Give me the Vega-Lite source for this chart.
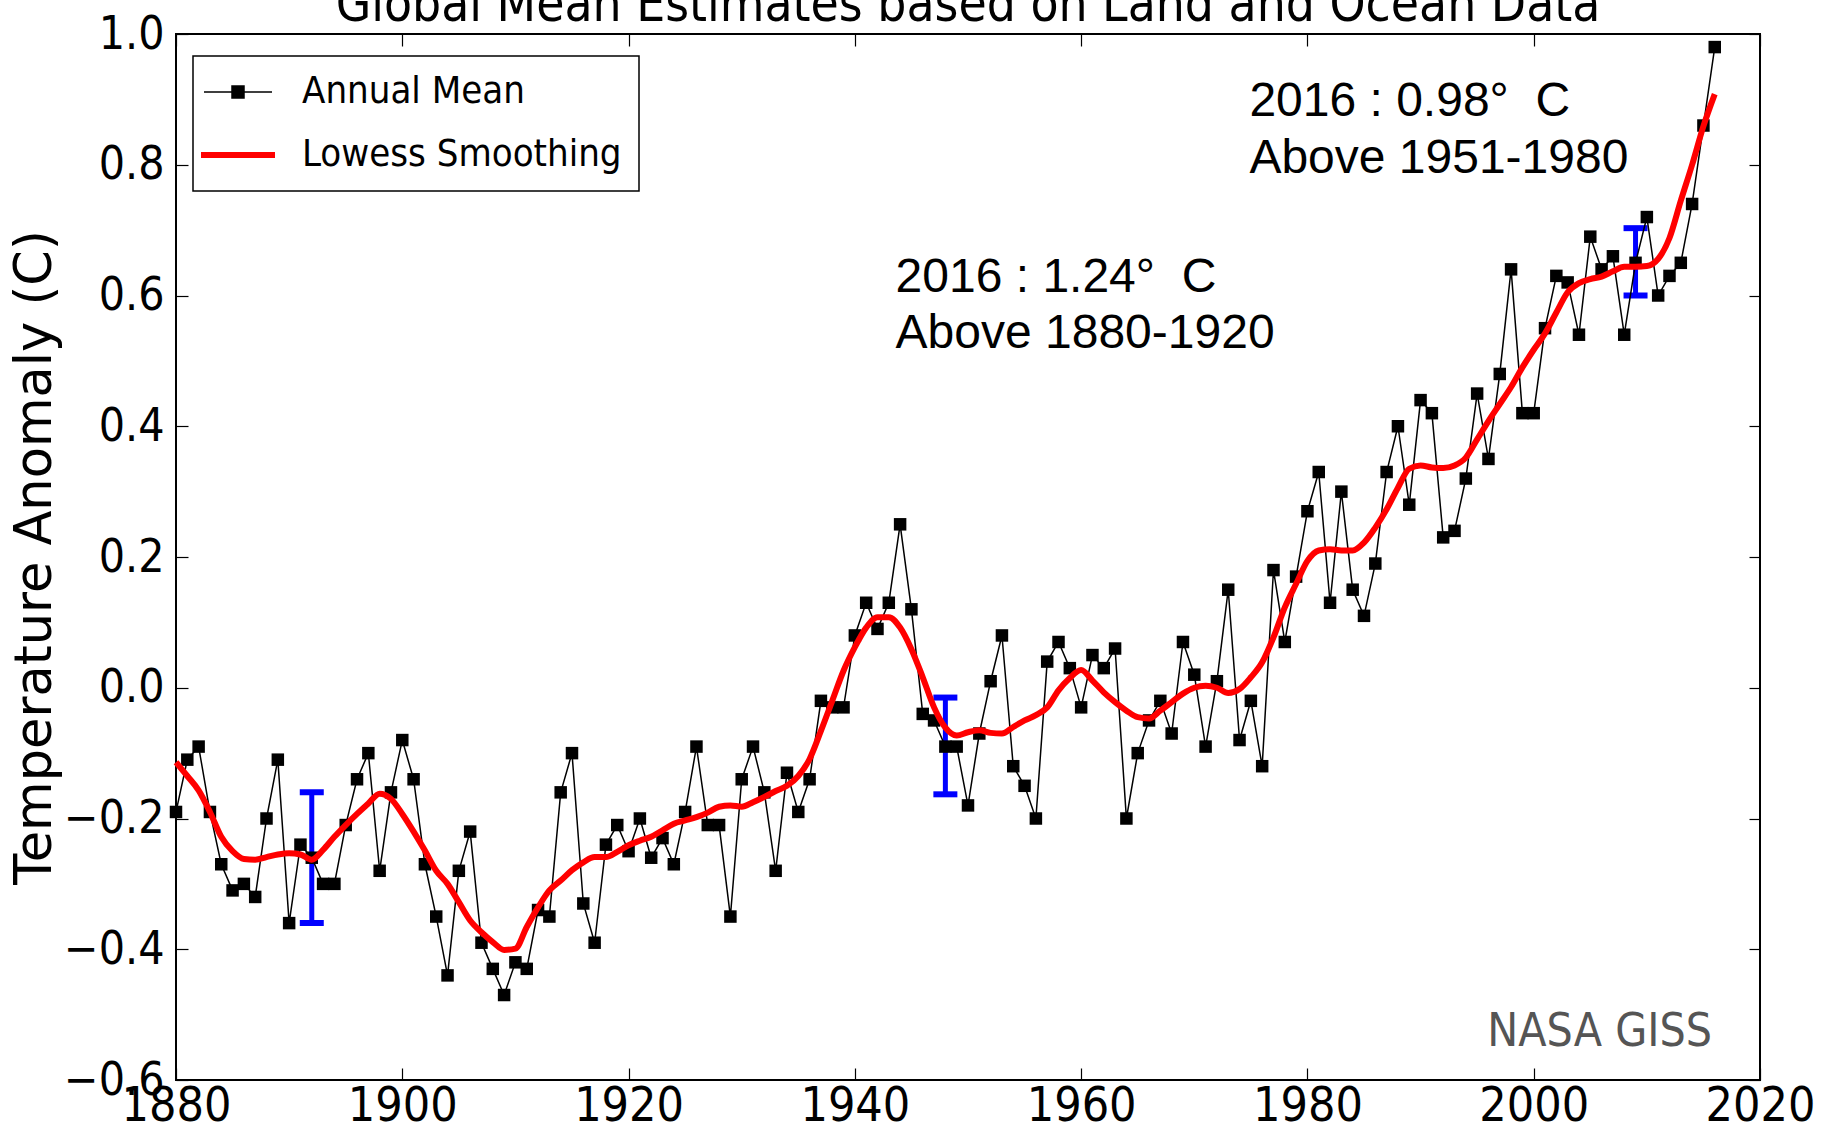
{
  "$schema": "https://vega.github.io/schema/vega-lite/v6.json",
  "width": 1584,
  "height": 1046,
  "autosize": {"type": "none"},
  "padding": {"left": 176, "top": 34, "right": 71, "bottom": 56},
  "background": "white",
  "config": {
    "view": {"stroke": "black", "strokeWidth": 2}
  },
  "datasets": {
    "annual": [
      {"year": 1880, "anomaly": -0.19}, {"year": 1881, "anomaly": -0.11}, {"year": 1882, "anomaly": -0.09},
      {"year": 1883, "anomaly": -0.19}, {"year": 1884, "anomaly": -0.27}, {"year": 1885, "anomaly": -0.31},
      {"year": 1886, "anomaly": -0.30}, {"year": 1887, "anomaly": -0.32}, {"year": 1888, "anomaly": -0.20},
      {"year": 1889, "anomaly": -0.11}, {"year": 1890, "anomaly": -0.36}, {"year": 1891, "anomaly": -0.24},
      {"year": 1892, "anomaly": -0.26}, {"year": 1893, "anomaly": -0.30}, {"year": 1894, "anomaly": -0.30},
      {"year": 1895, "anomaly": -0.21}, {"year": 1896, "anomaly": -0.14}, {"year": 1897, "anomaly": -0.10},
      {"year": 1898, "anomaly": -0.28}, {"year": 1899, "anomaly": -0.16}, {"year": 1900, "anomaly": -0.08},
      {"year": 1901, "anomaly": -0.14}, {"year": 1902, "anomaly": -0.27}, {"year": 1903, "anomaly": -0.35},
      {"year": 1904, "anomaly": -0.44}, {"year": 1905, "anomaly": -0.28}, {"year": 1906, "anomaly": -0.22},
      {"year": 1907, "anomaly": -0.39}, {"year": 1908, "anomaly": -0.43}, {"year": 1909, "anomaly": -0.47},
      {"year": 1910, "anomaly": -0.42}, {"year": 1911, "anomaly": -0.43}, {"year": 1912, "anomaly": -0.34},
      {"year": 1913, "anomaly": -0.35}, {"year": 1914, "anomaly": -0.16}, {"year": 1915, "anomaly": -0.10},
      {"year": 1916, "anomaly": -0.33}, {"year": 1917, "anomaly": -0.39}, {"year": 1918, "anomaly": -0.24},
      {"year": 1919, "anomaly": -0.21}, {"year": 1920, "anomaly": -0.25}, {"year": 1921, "anomaly": -0.20},
      {"year": 1922, "anomaly": -0.26}, {"year": 1923, "anomaly": -0.23}, {"year": 1924, "anomaly": -0.27},
      {"year": 1925, "anomaly": -0.19}, {"year": 1926, "anomaly": -0.09}, {"year": 1927, "anomaly": -0.21},
      {"year": 1928, "anomaly": -0.21}, {"year": 1929, "anomaly": -0.35}, {"year": 1930, "anomaly": -0.14},
      {"year": 1931, "anomaly": -0.09}, {"year": 1932, "anomaly": -0.16}, {"year": 1933, "anomaly": -0.28},
      {"year": 1934, "anomaly": -0.13}, {"year": 1935, "anomaly": -0.19}, {"year": 1936, "anomaly": -0.14},
      {"year": 1937, "anomaly": -0.02}, {"year": 1938, "anomaly": -0.03}, {"year": 1939, "anomaly": -0.03},
      {"year": 1940, "anomaly": 0.08}, {"year": 1941, "anomaly": 0.13}, {"year": 1942, "anomaly": 0.09},
      {"year": 1943, "anomaly": 0.13}, {"year": 1944, "anomaly": 0.25}, {"year": 1945, "anomaly": 0.12},
      {"year": 1946, "anomaly": -0.04}, {"year": 1947, "anomaly": -0.05}, {"year": 1948, "anomaly": -0.09},
      {"year": 1949, "anomaly": -0.09}, {"year": 1950, "anomaly": -0.18}, {"year": 1951, "anomaly": -0.07},
      {"year": 1952, "anomaly": 0.01}, {"year": 1953, "anomaly": 0.08}, {"year": 1954, "anomaly": -0.12},
      {"year": 1955, "anomaly": -0.15}, {"year": 1956, "anomaly": -0.20}, {"year": 1957, "anomaly": 0.04},
      {"year": 1958, "anomaly": 0.07}, {"year": 1959, "anomaly": 0.03}, {"year": 1960, "anomaly": -0.03},
      {"year": 1961, "anomaly": 0.05}, {"year": 1962, "anomaly": 0.03}, {"year": 1963, "anomaly": 0.06},
      {"year": 1964, "anomaly": -0.20}, {"year": 1965, "anomaly": -0.10}, {"year": 1966, "anomaly": -0.05},
      {"year": 1967, "anomaly": -0.02}, {"year": 1968, "anomaly": -0.07}, {"year": 1969, "anomaly": 0.07},
      {"year": 1970, "anomaly": 0.02}, {"year": 1971, "anomaly": -0.09}, {"year": 1972, "anomaly": 0.01},
      {"year": 1973, "anomaly": 0.15}, {"year": 1974, "anomaly": -0.08}, {"year": 1975, "anomaly": -0.02},
      {"year": 1976, "anomaly": -0.12}, {"year": 1977, "anomaly": 0.18}, {"year": 1978, "anomaly": 0.07},
      {"year": 1979, "anomaly": 0.17}, {"year": 1980, "anomaly": 0.27}, {"year": 1981, "anomaly": 0.33},
      {"year": 1982, "anomaly": 0.13}, {"year": 1983, "anomaly": 0.30}, {"year": 1984, "anomaly": 0.15},
      {"year": 1985, "anomaly": 0.11}, {"year": 1986, "anomaly": 0.19}, {"year": 1987, "anomaly": 0.33},
      {"year": 1988, "anomaly": 0.40}, {"year": 1989, "anomaly": 0.28}, {"year": 1990, "anomaly": 0.44},
      {"year": 1991, "anomaly": 0.42}, {"year": 1992, "anomaly": 0.23}, {"year": 1993, "anomaly": 0.24},
      {"year": 1994, "anomaly": 0.32}, {"year": 1995, "anomaly": 0.45}, {"year": 1996, "anomaly": 0.35},
      {"year": 1997, "anomaly": 0.48}, {"year": 1998, "anomaly": 0.64}, {"year": 1999, "anomaly": 0.42},
      {"year": 2000, "anomaly": 0.42}, {"year": 2001, "anomaly": 0.55}, {"year": 2002, "anomaly": 0.63},
      {"year": 2003, "anomaly": 0.62}, {"year": 2004, "anomaly": 0.54}, {"year": 2005, "anomaly": 0.69},
      {"year": 2006, "anomaly": 0.64}, {"year": 2007, "anomaly": 0.66}, {"year": 2008, "anomaly": 0.54},
      {"year": 2009, "anomaly": 0.65}, {"year": 2010, "anomaly": 0.72}, {"year": 2011, "anomaly": 0.60},
      {"year": 2012, "anomaly": 0.63}, {"year": 2013, "anomaly": 0.65}, {"year": 2014, "anomaly": 0.74},
      {"year": 2015, "anomaly": 0.86}, {"year": 2016, "anomaly": 0.98}
    ],
    "lowess": [
      {"year": 1880, "smooth": -0.114}, {"year": 1881, "smooth": -0.135}, {"year": 1882, "smooth": -0.157},
      {"year": 1883, "smooth": -0.19}, {"year": 1884, "smooth": -0.228}, {"year": 1885, "smooth": -0.25},
      {"year": 1886, "smooth": -0.262}, {"year": 1887, "smooth": -0.263}, {"year": 1888, "smooth": -0.259},
      {"year": 1889, "smooth": -0.255}, {"year": 1890, "smooth": -0.253}, {"year": 1891, "smooth": -0.255},
      {"year": 1892, "smooth": -0.263}, {"year": 1893, "smooth": -0.248}, {"year": 1894, "smooth": -0.228},
      {"year": 1895, "smooth": -0.21}, {"year": 1896, "smooth": -0.193}, {"year": 1897, "smooth": -0.177},
      {"year": 1898, "smooth": -0.162}, {"year": 1899, "smooth": -0.17}, {"year": 1900, "smooth": -0.193},
      {"year": 1901, "smooth": -0.22}, {"year": 1902, "smooth": -0.249}, {"year": 1903, "smooth": -0.28},
      {"year": 1904, "smooth": -0.30}, {"year": 1905, "smooth": -0.328}, {"year": 1906, "smooth": -0.356},
      {"year": 1907, "smooth": -0.374}, {"year": 1908, "smooth": -0.389}, {"year": 1909, "smooth": -0.401},
      {"year": 1910, "smooth": -0.399}, {"year": 1911, "smooth": -0.366}, {"year": 1912, "smooth": -0.336},
      {"year": 1913, "smooth": -0.31}, {"year": 1914, "smooth": -0.295}, {"year": 1915, "smooth": -0.279},
      {"year": 1916, "smooth": -0.267}, {"year": 1917, "smooth": -0.259}, {"year": 1918, "smooth": -0.259},
      {"year": 1919, "smooth": -0.251}, {"year": 1920, "smooth": -0.241}, {"year": 1921, "smooth": -0.234},
      {"year": 1922, "smooth": -0.228}, {"year": 1923, "smooth": -0.218}, {"year": 1924, "smooth": -0.208},
      {"year": 1925, "smooth": -0.203}, {"year": 1926, "smooth": -0.198}, {"year": 1927, "smooth": -0.191},
      {"year": 1928, "smooth": -0.182}, {"year": 1929, "smooth": -0.18}, {"year": 1930, "smooth": -0.182},
      {"year": 1931, "smooth": -0.175}, {"year": 1932, "smooth": -0.167}, {"year": 1933, "smooth": -0.158},
      {"year": 1934, "smooth": -0.15}, {"year": 1935, "smooth": -0.135}, {"year": 1936, "smooth": -0.109},
      {"year": 1937, "smooth": -0.066}, {"year": 1938, "smooth": -0.02}, {"year": 1939, "smooth": 0.026},
      {"year": 1940, "smooth": 0.062}, {"year": 1941, "smooth": 0.092}, {"year": 1942, "smooth": 0.108},
      {"year": 1943, "smooth": 0.108}, {"year": 1944, "smooth": 0.092}, {"year": 1945, "smooth": 0.059},
      {"year": 1946, "smooth": 0.016}, {"year": 1947, "smooth": -0.03}, {"year": 1948, "smooth": -0.061},
      {"year": 1949, "smooth": -0.073}, {"year": 1950, "smooth": -0.068}, {"year": 1951, "smooth": -0.065},
      {"year": 1952, "smooth": -0.069}, {"year": 1953, "smooth": -0.07}, {"year": 1954, "smooth": -0.06},
      {"year": 1955, "smooth": -0.05}, {"year": 1956, "smooth": -0.042}, {"year": 1957, "smooth": -0.03},
      {"year": 1958, "smooth": -0.004}, {"year": 1959, "smooth": 0.015}, {"year": 1960, "smooth": 0.027},
      {"year": 1961, "smooth": 0.011}, {"year": 1962, "smooth": -0.007}, {"year": 1963, "smooth": -0.022},
      {"year": 1964, "smooth": -0.035}, {"year": 1965, "smooth": -0.045}, {"year": 1966, "smooth": -0.047},
      {"year": 1967, "smooth": -0.035}, {"year": 1968, "smooth": -0.022}, {"year": 1969, "smooth": -0.009},
      {"year": 1970, "smooth": 0.0}, {"year": 1971, "smooth": 0.003}, {"year": 1972, "smooth": 0.0},
      {"year": 1973, "smooth": -0.008}, {"year": 1974, "smooth": -0.002}, {"year": 1975, "smooth": 0.016},
      {"year": 1976, "smooth": 0.039}, {"year": 1977, "smooth": 0.077}, {"year": 1978, "smooth": 0.123},
      {"year": 1979, "smooth": 0.159}, {"year": 1980, "smooth": 0.194}, {"year": 1981, "smooth": 0.21},
      {"year": 1982, "smooth": 0.212}, {"year": 1983, "smooth": 0.21}, {"year": 1984, "smooth": 0.21},
      {"year": 1985, "smooth": 0.222}, {"year": 1986, "smooth": 0.245}, {"year": 1987, "smooth": 0.273},
      {"year": 1988, "smooth": 0.306}, {"year": 1989, "smooth": 0.335}, {"year": 1990, "smooth": 0.34},
      {"year": 1991, "smooth": 0.337}, {"year": 1992, "smooth": 0.336}, {"year": 1993, "smooth": 0.34},
      {"year": 1994, "smooth": 0.352}, {"year": 1995, "smooth": 0.38}, {"year": 1996, "smooth": 0.408},
      {"year": 1997, "smooth": 0.434}, {"year": 1998, "smooth": 0.46}, {"year": 1999, "smooth": 0.49},
      {"year": 2000, "smooth": 0.517}, {"year": 2001, "smooth": 0.542}, {"year": 2002, "smooth": 0.574},
      {"year": 2003, "smooth": 0.605}, {"year": 2004, "smooth": 0.619}, {"year": 2005, "smooth": 0.625},
      {"year": 2006, "smooth": 0.629}, {"year": 2007, "smooth": 0.637}, {"year": 2008, "smooth": 0.644},
      {"year": 2009, "smooth": 0.644}, {"year": 2010, "smooth": 0.645}, {"year": 2011, "smooth": 0.656},
      {"year": 2012, "smooth": 0.688}, {"year": 2013, "smooth": 0.745}, {"year": 2014, "smooth": 0.80},
      {"year": 2015, "smooth": 0.859}, {"year": 2016, "smooth": 0.908}
    ],
    "errbars": [
      {"year": 1892, "lo": -0.36, "hi": -0.16},
      {"year": 1948, "lo": -0.163, "hi": -0.015},
      {"year": 2009, "lo": 0.60, "hi": 0.703}
    ],
    "notes": [
      {"year": 1974.87, "value": 0.875, "label": "2016 : 0.98°\u00a0\u00a0C"},
      {"year": 1974.87, "value": 0.788, "label": "Above 1951-1980"},
      {"year": 1943.6, "value": 0.6055, "label": "2016 : 1.24°\u00a0\u00a0C"},
      {"year": 1943.6, "value": 0.52, "label": "Above 1880-1920"}
    ],
    "credit": [
      {"year": 2015.76, "value": -0.548, "label": "NASA GISS"}
    ],
    "heading": [
      {"year": 1950, "value": 1.02, "label": "Global Mean Estimates based on Land and Ocean Data"}
    ]
  },
  "layer": [
    {
      "mark": {"type": "rule", "color": "#b0dadf", "strokeWidth": 3},
      "encoding": {
        "y": {"datum": 0, "type": "quantitative", "scale": {"domain": [-0.6, 1.0], "nice": false, "zero": false}, "axis": null}
      }
    },
    {
      "data": {"name": "errbars"},
      "mark": {"type": "rule", "color": "#0000ff", "strokeWidth": 5},
      "encoding": {
        "x": {"field": "year", "type": "quantitative", "scale": {"domain": [1880, 2020], "nice": false, "zero": false}, "axis": null},
        "y": {"field": "lo", "type": "quantitative", "scale": {"domain": [-0.6, 1.0], "nice": false, "zero": false}, "axis": null},
        "y2": {"field": "hi"}
      }
    },
    {
      "data": {"name": "errbars"},
      "mark": {"type": "tick", "orient": "horizontal", "color": "#0000ff", "thickness": 6, "size": 24, "opacity": 1},
      "encoding": {
        "x": {"field": "year", "type": "quantitative", "scale": {"domain": [1880, 2020], "nice": false, "zero": false}, "axis": null},
        "y": {"field": "lo", "type": "quantitative", "scale": {"domain": [-0.6, 1.0], "nice": false, "zero": false}, "axis": null}
      }
    },
    {
      "data": {"name": "errbars"},
      "mark": {"type": "tick", "orient": "horizontal", "color": "#0000ff", "thickness": 6, "size": 24, "opacity": 1},
      "encoding": {
        "x": {"field": "year", "type": "quantitative", "scale": {"domain": [1880, 2020], "nice": false, "zero": false}, "axis": null},
        "y": {"field": "hi", "type": "quantitative", "scale": {"domain": [-0.6, 1.0], "nice": false, "zero": false}, "axis": null}
      }
    },
    {
      "data": {"name": "annual"},
      "mark": {"type": "line", "strokeWidth": 1.5},
      "encoding": {
        "x": {
          "field": "year", "type": "quantitative",
          "scale": {"domain": [1880, 2020], "nice": false, "zero": false},
          "axis": {
            "orient": "bottom", "values": [1880, 1900, 1920, 1940, 1960, 1980, 2000, 2020], "format": "d",
            "title": null, "domain": false, "grid": false, "ticks": true, "tickSize": -12,
            "tickColor": "black", "tickWidth": 1.2, "labelPadding": 14,
            "labelFont": "DejaVu Sans Condensed, DejaVu Sans", "labelFontSize": 48,
            "labelColor": "black", "labelFlush": false, "labelOverlap": false, "labelBound": false
          }
        },
        "y": {
          "field": "anomaly", "type": "quantitative",
          "scale": {"domain": [-0.6, 1.0], "nice": false, "zero": false},
          "axis": {
            "orient": "left", "values": [-0.6, -0.4, -0.2, 0, 0.2, 0.4, 0.6, 0.8, 1.0], "format": ".1f",
            "title": "Temperature Anomaly (C)", "titleFont": "DejaVu Sans", "titleFontSize": 51,
            "titleFontWeight": "normal", "titleColor": "black", "titleX": -141, "titleY": 523,
            "titleAngle": -90, "titleAlign": "center", "titleBaseline": "middle",
            "domain": false, "grid": false, "ticks": true, "tickSize": -12, "tickColor": "black",
            "tickWidth": 1.2, "labelPadding": 24,
            "labelFont": "DejaVu Sans Condensed, DejaVu Sans", "labelFontSize": 46,
            "labelColor": "black", "labelFlush": false, "labelOverlap": false, "labelBound": false
          }
        },
        "color": {
          "datum": "Annual Mean",
          "scale": {"domain": ["Annual Mean", "Lowess Smoothing"], "range": ["black", "#ff0000"]},
          "legend": {
            "orient": "none", "legendX": 17, "legendY": 22, "title": null,
            "padding": 17, "strokeColor": "black", "fillColor": "white", "cornerRadius": 0,
            "labelFont": "DejaVu Sans Condensed, DejaVu Sans", "labelFontSize": 38,
            "labelColor": "black", "labelLimit": 800, "labelOffset": 45, "symbolOffset": 9,
            "symbolSize": 1600, "symbolStrokeWidth": 6, "rowPadding": 25,
            "encode": {
              "legend": {"update": {"strokeWidth": {"value": 1.5}}},
              "symbols": {
                "update": {
                  "shape": {"signal": "datum.value === 'Annual Mean' ? 'M-1.7,0L1.7,0M-0.3,-0.3L0.3,-0.3L0.3,0.3L-0.3,0.3Z' : 'M-1.85,0L1.85,0'"},
                  "fill": {"signal": "datum.value === 'Annual Mean' ? 'black' : 'transparent'"},
                  "stroke": {"signal": "datum.value === 'Annual Mean' ? 'black' : '#ff0000'"},
                  "strokeWidth": {"signal": "datum.value === 'Annual Mean' ? 1.5 : 6"},
                  "opacity": {"value": 1}
                }
              }
            }
          }
        }
      }
    },
    {
      "data": {"name": "annual"},
      "mark": {"type": "point", "shape": "square", "filled": true, "color": "black", "size": 156, "opacity": 1},
      "encoding": {
        "x": {
          "field": "year", "type": "quantitative",
          "scale": {"domain": [1880, 2020], "nice": false, "zero": false},
          "axis": {"orient": "top", "values": [1880, 1900, 1920, 1940, 1960, 1980, 2000, 2020], "labels": false, "title": null, "domain": false, "grid": false, "ticks": true, "tickSize": -12, "tickColor": "black", "tickWidth": 1.2}
        },
        "y": {
          "field": "anomaly", "type": "quantitative",
          "scale": {"domain": [-0.6, 1.0], "nice": false, "zero": false},
          "axis": {"orient": "right", "values": [-0.6, -0.4, -0.2, 0, 0.2, 0.4, 0.6, 0.8, 1.0], "labels": false, "title": null, "domain": false, "grid": false, "ticks": true, "tickSize": -11, "tickColor": "black", "tickWidth": 1.2}
        }
      }
    },
    {
      "data": {"name": "lowess"},
      "mark": {"type": "line", "strokeWidth": 6, "interpolate": "monotone"},
      "encoding": {
        "x": {"field": "year", "type": "quantitative", "scale": {"domain": [1880, 2020], "nice": false, "zero": false}, "axis": null},
        "y": {"field": "smooth", "type": "quantitative", "scale": {"domain": [-0.6, 1.0], "nice": false, "zero": false}, "axis": null},
        "color": {"datum": "Lowess Smoothing"}
      }
    },
    {
      "data": {"name": "notes"},
      "mark": {"type": "text", "font": "Liberation Sans", "fontSize": 48, "align": "left", "baseline": "alphabetic", "color": "black"},
      "encoding": {
        "x": {"field": "year", "type": "quantitative", "scale": {"domain": [1880, 2020], "nice": false, "zero": false}, "axis": null},
        "y": {"field": "value", "type": "quantitative", "scale": {"domain": [-0.6, 1.0], "nice": false, "zero": false}, "axis": null},
        "text": {"field": "label"}
      }
    },
    {
      "data": {"name": "credit"},
      "mark": {"type": "text", "font": "DejaVu Sans Condensed, DejaVu Sans", "fontSize": 46, "align": "right", "baseline": "alphabetic", "color": "#555555"},
      "encoding": {
        "x": {"field": "year", "type": "quantitative", "scale": {"domain": [1880, 2020], "nice": false, "zero": false}, "axis": null},
        "y": {"field": "value", "type": "quantitative", "scale": {"domain": [-0.6, 1.0], "nice": false, "zero": false}, "axis": null},
        "text": {"field": "label"}
      }
    },
    {
      "data": {"name": "heading"},
      "mark": {"type": "text", "font": "DejaVu Sans Condensed, DejaVu Sans", "fontSize": 51, "align": "center", "baseline": "alphabetic", "color": "black"},
      "encoding": {
        "x": {"field": "year", "type": "quantitative", "scale": {"domain": [1880, 2020], "nice": false, "zero": false}, "axis": null},
        "y": {"field": "value", "type": "quantitative", "scale": {"domain": [-0.6, 1.0], "nice": false, "zero": false}, "axis": null},
        "text": {"field": "label"}
      }
    }
  ],
  "resolve": {"axis": {"x": "independent", "y": "independent"}}
}
